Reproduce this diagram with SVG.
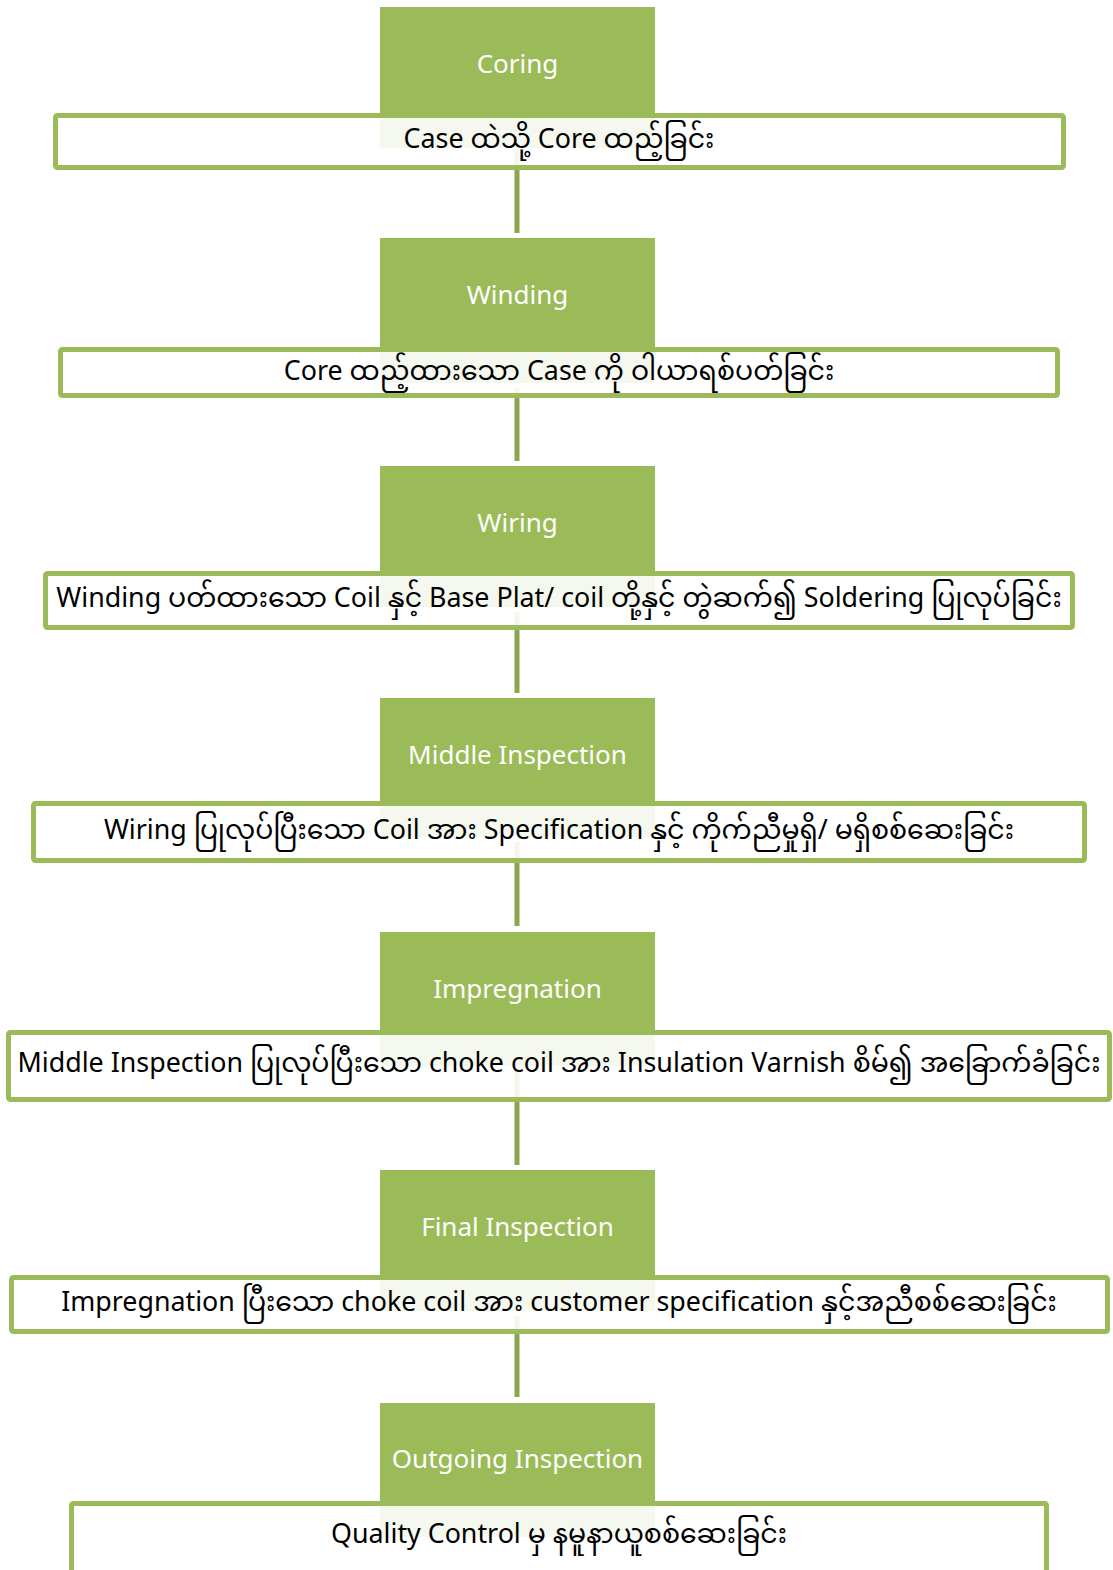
<svg xmlns="http://www.w3.org/2000/svg" width="1113" height="1570" viewBox="0 0 1113 1570">
<style>
.hdr{fill:#9bbb59}
.box{fill:#ffffff;fill-opacity:0.9;stroke:#9bbb59;stroke-width:5}
.ht{font-family:"Noto Sans","Open Sans","Liberation Sans",sans-serif;font-size:26px;fill:#ffffff;text-anchor:middle;dominant-baseline:central}
.bt{font-family:"Noto Sans","Noto Sans Myanmar","Padauk","Myanmar Text","Open Sans",sans-serif;font-size:26.8px;fill:#000000;text-anchor:middle;dominant-baseline:central}
.con{stroke:#8aa64f;stroke-width:5;fill:none}
</style>
<rect width="1113" height="1570" fill="#ffffff"/>
<g id="connectors">
<line class="con" x1="517" y1="152" x2="517" y2="233"/>
<line class="con" x1="517" y1="388" x2="517" y2="461"/>
<line class="con" x1="517" y1="612" x2="517" y2="693"/>
<line class="con" x1="517" y1="842" x2="517" y2="926"/>
<line class="con" x1="517" y1="1071" x2="517" y2="1165"/>
<line class="con" x1="517" y1="1316" x2="517" y2="1397"/>
</g>
<g id="n1">
<rect class="hdr" x="380" y="7" width="275" height="141"/>
<text class="ht" x="517.5" y="63">Coring</text>
<rect class="box" x="55.5" y="115.5" width="1008" height="52" rx="2"/>
<text class="bt" x="559" y="137">Case ထဲသို့ Core ထည့်ခြင်း</text>
</g>
<g id="n2">
<rect class="hdr" x="380" y="238" width="275" height="145"/>
<text class="ht" x="517.5" y="294">Winding</text>
<rect class="box" x="60.5" y="349.5" width="997" height="46" rx="2"/>
<text class="bt" x="559" y="369">Core ထည့်ထားသော Case ကို ဝါယာရစ်ပတ်ခြင်း</text>
</g>
<g id="n3">
<rect class="hdr" x="380" y="466" width="275" height="141"/>
<text class="ht" x="517.5" y="522">Wiring</text>
<rect class="box" x="45.5" y="573.5" width="1027" height="54" rx="2"/>
<text class="bt" x="559" y="596">Winding ပတ်ထားသော Coil နှင့် Base Plat/ coil တို့နှင့် တွဲဆက်၍ Soldering ပြုလုပ်ခြင်း</text>
</g>
<g id="n4">
<rect class="hdr" x="380" y="698" width="275" height="139"/>
<text class="ht" x="517.5" y="754">Middle Inspection</text>
<rect class="box" x="33.5" y="803.5" width="1051" height="57" rx="2"/>
<text class="bt" x="559" y="828">Wiring ပြုလုပ်ပြီးသော Coil အား Specification နှင့် ကိုက်ညီမှုရှိ/ မရှိစစ်ဆေးခြင်း</text>
</g>
<g id="n5">
<rect class="hdr" x="380" y="932" width="275" height="134"/>
<text class="ht" x="517.5" y="988">Impregnation</text>
<rect class="box" x="8.5" y="1032.5" width="1101" height="67" rx="2"/>
<text class="bt" x="559" y="1061">Middle Inspection ပြုလုပ်ပြီးသော choke coil အား Insulation Varnish စိမ်၍ အခြောက်ခံခြင်း</text>
</g>
<g id="n6">
<rect class="hdr" x="380" y="1170" width="275" height="141"/>
<text class="ht" x="517.5" y="1226">Final Inspection</text>
<rect class="box" x="11.5" y="1277.5" width="1096" height="54" rx="2"/>
<text class="bt" x="559" y="1300">Impregnation ပြီးသော choke coil အား customer specification နှင့်အညီစစ်ဆေးခြင်း</text>
</g>
<g id="n7">
<rect class="hdr" x="380" y="1403" width="275" height="134"/>
<text class="ht" x="517.5" y="1458">Outgoing Inspection</text>
<rect class="box" x="71.5" y="1503.5" width="975" height="80" rx="2"/>
<text class="bt" x="559" y="1532">Quality Control မှ နမူနာယူစစ်ဆေးခြင်း</text>
</g>
</svg>
